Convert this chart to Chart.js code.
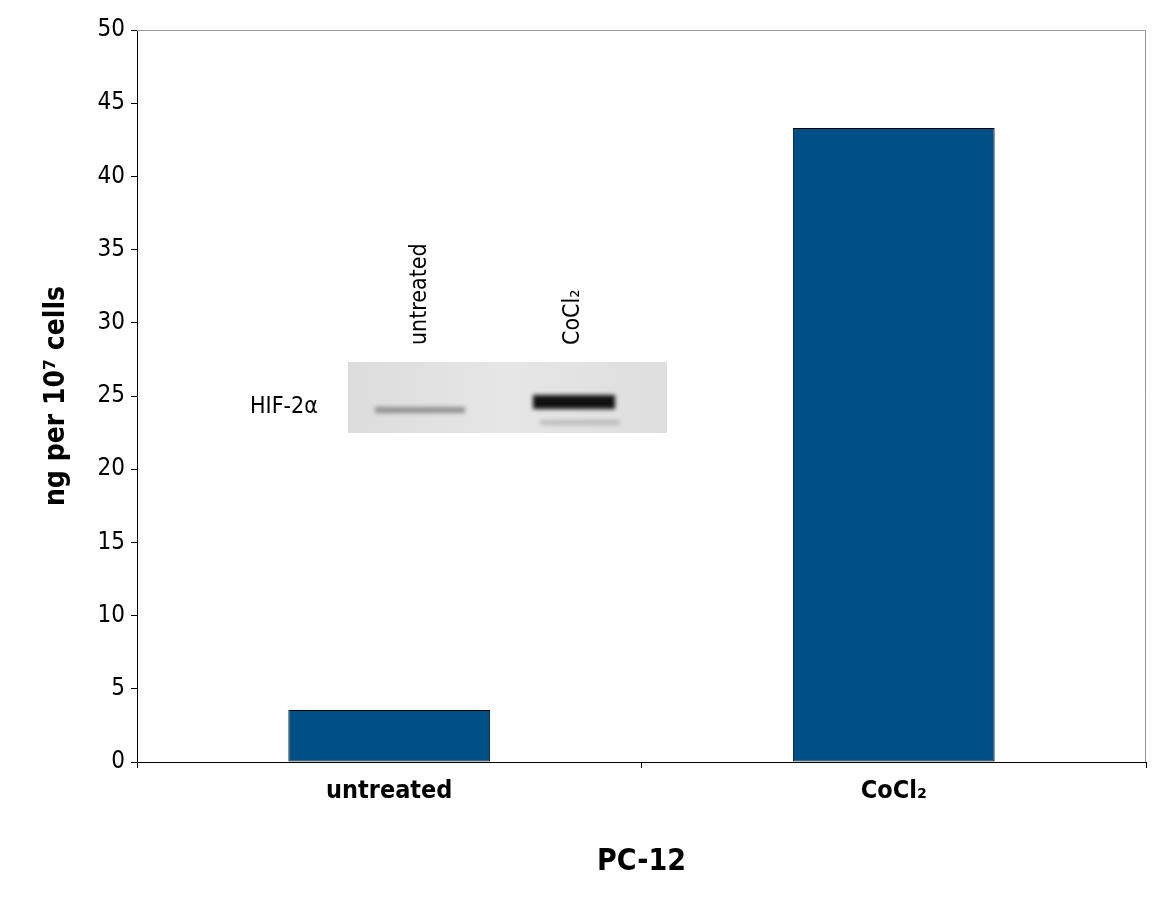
<!DOCTYPE html>
<html>
<head>
<meta charset="utf-8">
<script src="https://cdn.jsdelivr.net/npm/chart.js@4/dist/chart.umd.min.js"></script>
<style>
  html, body { margin: 0; padding: 0; background: #fff; }
  #wrap { width: 1165px; height: 900px; }
</style>
</head>
<body>
<div id="wrap"><canvas id="chart"></canvas></div>
<script>
// Données
const categories = ['untreated', 'CoCl₂'];
const values = [3.55, 43.3];
const yTicks = [0, 5, 10, 15, 20, 25, 30, 35, 40, 45, 50];

const FONT = '"DejaVu Sans Condensed", "Liberation Sans Narrow", sans-serif';

// Cadre gris (haut et droite) et encart du western blot
const insetPlugin = {
    id: 'inset',
    afterDraw(chart) {
        const { ctx, chartArea: a } = chart;
        ctx.save();
        ctx.strokeStyle = '#999';
        ctx.lineWidth = 1;
        ctx.beginPath();
        ctx.moveTo(a.left, a.top + 0.5);
        ctx.lineTo(a.right - 0.5, a.top + 0.5);
        ctx.lineTo(a.right - 0.5, a.bottom);
        ctx.stroke();

        // encart
        const x0 = 348, y0 = 362, w = 319, h = 71;
        const g = ctx.createLinearGradient(x0, 0, x0 + w, 0);
        g.addColorStop(0, '#dcdcdc');
        g.addColorStop(0.5, '#e6e6e6');
        g.addColorStop(1, '#dedede');
        ctx.fillStyle = g;
        ctx.fillRect(x0, y0, w, h);
        ctx.filter = 'blur(2px)';
        ctx.fillStyle = 'rgba(110,110,110,0.7)';
        ctx.fillRect(375, 407, 90, 6);
        ctx.fillStyle = '#111';
        ctx.fillRect(533, 395, 82, 14);
        ctx.fillStyle = 'rgba(150,150,150,0.5)';
        ctx.fillRect(540, 420, 80, 5);
        ctx.filter = 'none';

        ctx.fillStyle = '#000';
        ctx.font = '23px ' + FONT;
        ctx.textBaseline = 'middle';
        ctx.textAlign = 'left';
        ctx.fillText('HIF-2α', 250, 407);
        ctx.save();
        ctx.translate(420, 345);
        ctx.rotate(-Math.PI / 2);
        ctx.fillText('untreated', 0, 0);
        ctx.restore();
        ctx.save();
        ctx.translate(573, 345);
        ctx.rotate(-Math.PI / 2);
        ctx.fillText('CoCl₂', 0, 0);
        ctx.restore();
        ctx.restore();
    }
};

new Chart(document.getElementById('chart'), {
    type: 'bar',
    data: {
        labels: categories,
        datasets: [{
            data: values,
            backgroundColor: '#004f87',
            borderColor: '#000',
            borderWidth: 1,
            borderSkipped: false,
            barPercentage: 0.4,
            categoryPercentage: 1
        }]
    },
    options: {
        responsive: true,
        maintainAspectRatio: false,
        animation: false,
        layout: { padding: { top: 30, right: 19, bottom: 16, left: 0 } },
        plugins: { legend: { display: false }, tooltip: { enabled: false } },
        scales: {
            x: {
                grid: { display: true, drawOnChartArea: false, offset: true, color: '#000', tickLength: 6 },
                border: { color: '#000' },
                ticks: { color: '#000', font: { family: FONT, size: 25, weight: 'bold' }, padding: 8 },
                title: { display: true, text: 'PC-12', color: '#000', font: { family: FONT, size: 30, weight: 'bold' }, padding: { top: 30 } }
            },
            y: {
                min: 0, max: 50,
                afterBuildTicks(axis) { axis.ticks = yTicks.map(v => ({ value: v })); },
                afterFit(axis) { axis.width = 137; },
                grid: { drawOnChartArea: false, color: '#000', tickLength: 6 },
                border: { color: '#000' },
                ticks: { color: '#000', font: { family: FONT, size: 24 }, padding: 6 },
                title: { display: true, text: 'ng per 10⁷ cells', color: '#000', font: { family: FONT, size: 28, weight: 'bold' }, padding: { top: 40, bottom: 10 } }
            }
        }
    },
    plugins: [insetPlugin]
});
</script>
</body>
</html>
